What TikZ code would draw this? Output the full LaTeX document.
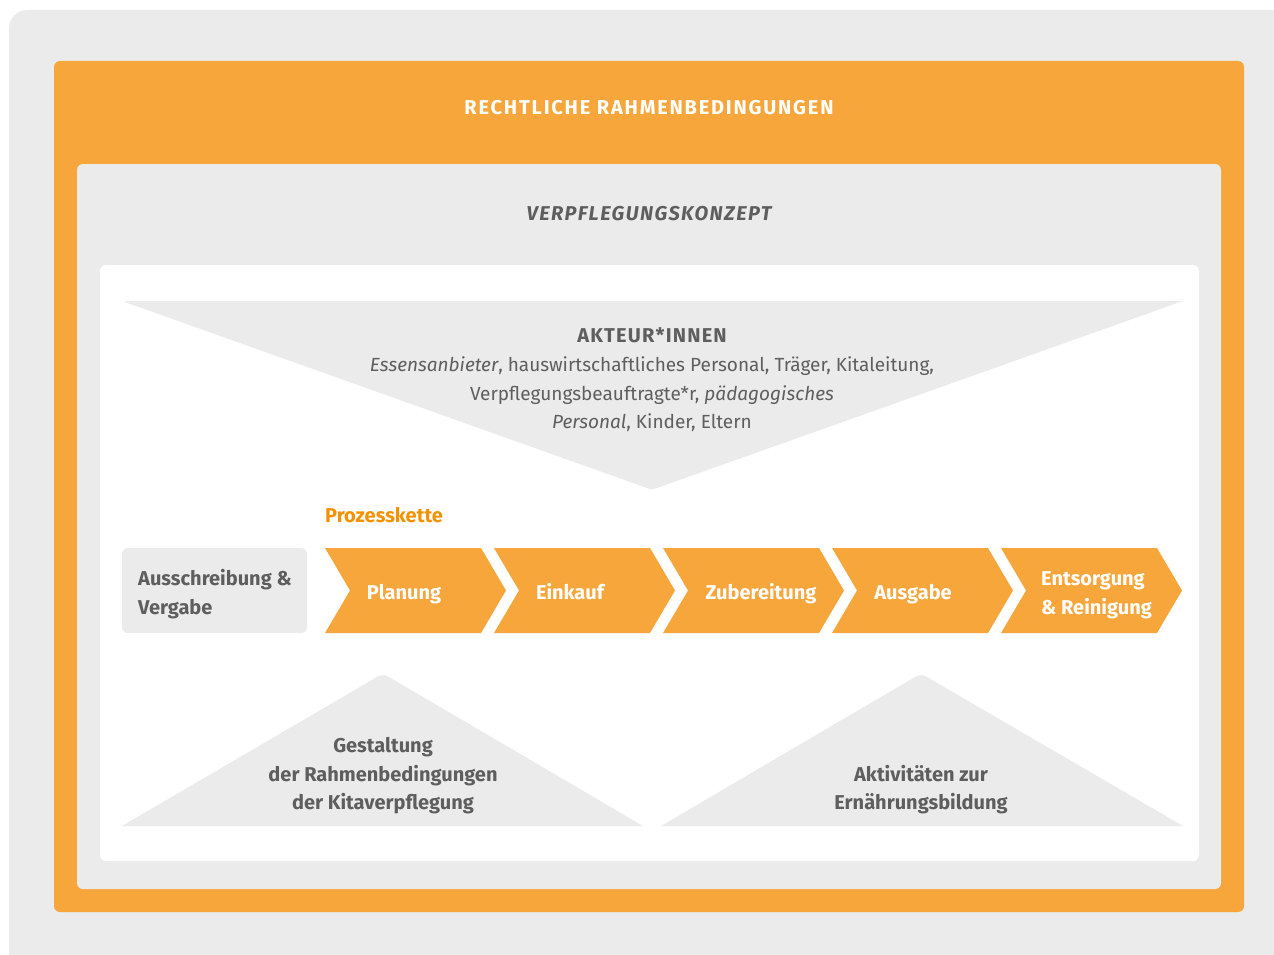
\documentclass[tikz,border=0pt]{standalone}
\usepackage{fontspec}
\setmainfont{Fira Sans}
\usetikzlibrary{calc}
\definecolor{orfill}{HTML}{F6A63B}
\definecolor{ortext}{HTML}{F39200}
\definecolor{lgrey}{HTML}{EBEBEB}
\definecolor{dgrey}{HTML}{5E5E5E}
\tikzset{
  txt/.style={anchor=base, inner sep=0pt, text=dgrey, font=\fontsize{19}{28}\selectfont},
  btxt/.style={txt, font=\fontsize{20}{28}\selectfont\bfseries},
  wtxt/.style={btxt, text=white},
  chev/.style={fill=orfill},
}
\begin{document}
\begin{tikzpicture}[x=1pt,y=-1pt]
\useasboundingbox (0,0) rectangle (1274,955);
\begin{scope}
\clip (0,0) rectangle (1274,955);
\fill[lgrey, rounded corners=18] (9,10) rectangle (1300,980);
\end{scope}
% frames
\fill[orfill, rounded corners=6] (54,61) rectangle (1244,912);
\fill[lgrey, rounded corners=6] (77,164) rectangle (1221,889);
\fill[white, rounded corners=6] (100,265) rectangle (1199,861);
\node[wtxt] (recht) at (649,115) {\addfontfeature{LetterSpace=9}RECHTLICHE RAHMENBEDINGUNGEN};
\node[btxt, font=\fontsize{20}{28}\selectfont\bfseries\itshape] (konzept) at (649,220) {\addfontfeature{LetterSpace=7}VERPFLEGUNGSKONZEPT};
% top triangle
\fill[lgrey] (122,301) -- (1183,301) -- (657,488) [rounded corners=5] -- (652,490) -- (647,488) -- cycle;
\node[btxt] (akt) at (652,342) {\addfontfeature{LetterSpace=6}AKTEUR*INNEN};
\node[txt] (akt1) at (652,371) {\textit{Essensanbieter}, hauswirtschaftliches Personal, Träger, Kitaleitung,};
\node[txt] (akt2) at (652,400) {Verpflegungsbeauftragte*r, \textit{pädagogisches}};
\node[txt] (akt3) at (652,428) {\textit{Personal}, Kinder, Eltern};
% process chain
\node[btxt, text=ortext, anchor=base west] (pk) at (325,522) {Prozesskette};
\fill[lgrey, rounded corners=6] (122,548) rectangle (307,633);
\node[btxt, anchor=base west] (aus1) at (138,585) {Ausschreibung \&};
\node[btxt, anchor=base west] (aus2) at (138,614) {Vergabe};
\foreach \x in {325,494,663,832,1001}{
  \fill[chev] (\x,548) -- ++(156,0) -- ++(25,42.5) -- ++(-25,42.5) -- ++(-156,0) -- ++(25,-42.5) -- cycle;
}
\node[wtxt] (plan) at (404,599) {Planung};
\node[wtxt] (eink) at (570,599) {Einkauf};
\node[wtxt] (zub) at (761,599) {Zubereitung};
\node[wtxt] (ausg) at (913,599) {Ausgabe};
\node[wtxt, anchor=base west] (ents1) at (1041,585) {Entsorgung};
\node[wtxt, anchor=base west] (ents2) at (1041,614) {\& Reinigung};
% bottom triangles
\fill[lgrey] (122,826) -- (377,677) [rounded corners=5] -- (383,674) -- (389,677) [sharp corners] -- (643,826) -- cycle;
\fill[lgrey] (661,826) -- (915,677) [rounded corners=5] -- (921,674) -- (927,677) [sharp corners] -- (1183,826) -- cycle;
\node[btxt] (g1) at (383,752) {Gestaltung};
\node[btxt] (g2) at (383,781) {der Rahmenbedingungen};
\node[btxt] (g3) at (383,809) {der Kitaverpflegung};
\node[btxt] (e1) at (921,781) {Aktivitäten zur};
\node[btxt] (e2) at (921,809) {Ernährungsbildung};
\end{tikzpicture}
\end{document}
